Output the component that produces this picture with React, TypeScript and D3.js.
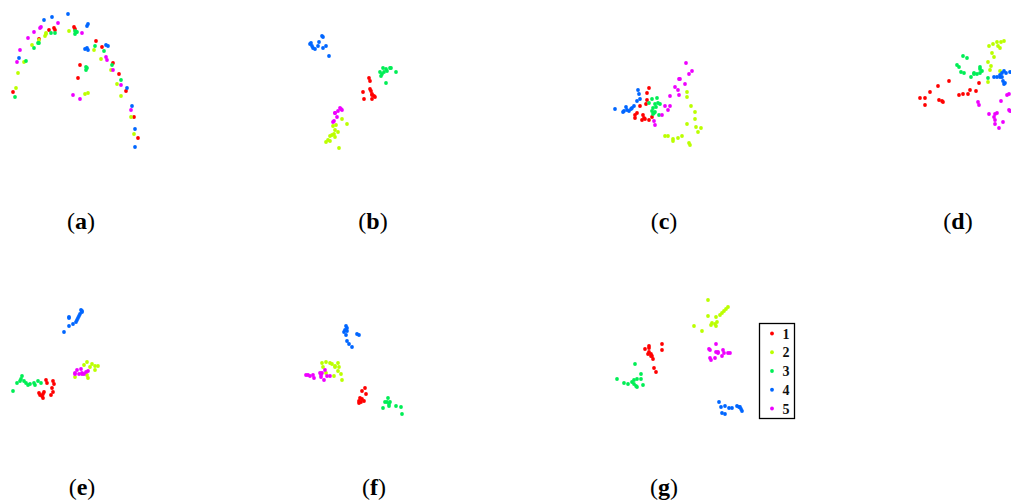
import React from "react";
import { scaleLinear } from "d3";

type Pt = [number, number];

const seriesNames = ["1", "2", "3", "4", "5"];
const seriesColors = ["#ff0000", "#bbff00", "#00ee55", "#0066ff", "#ee00ff"];
const panelLabels = ["a", "b", "c", "d", "e", "f", "g"];

// Panel (a)
const a1: Pt[] = [[74,27],[75,29],[54,28],[55,30],[49,30],[39,39],[96,41],[102,47],[113,63],[80,65],[78,78],[119,74],[126,91],[134,117],[138,138],[13,92]];
const a2: Pt[] = [[46,34],[46,33],[45,36],[39,40],[32,45],[24,62],[18,73],[16,88],[69,31],[94,50],[101,59],[111,70],[117,84],[121,96],[131,117],[134,134],[85,94],[88,93]];
const a3: Pt[] = [[51,33],[55,33],[39,43],[38,43],[34,48],[26,61],[15,97],[75,31],[76,32],[75,34],[77,32],[95,46],[104,51],[86,67],[87,68],[86,70],[112,65],[121,80]];
const a4: Pt[] = [[52,17],[44,20],[68,14],[88,24],[87,26],[19,58],[85,49],[88,50],[87,48],[106,45],[108,46],[127,88],[132,106],[135,129],[135,147]];
const a5: Pt[] = [[58,23],[41,27],[40,28],[34,32],[28,38],[20,50],[17,62],[82,33],[106,57],[107,60],[113,70],[121,85],[131,110],[73,95],[80,99]];

// Panel (b)
const b1: Pt[] = [[77,78],[78,81],[71,92],[78,89],[79,91],[80,94],[82,96],[80,99],[72,99],[83,97],[80,95]];
const b2: Pt[] = [[41,126],[44,125],[50,119],[55,124],[43,130],[46,132],[42,134],[40,135],[38,136],[36,140],[34,142],[38,141],[47,148],[43,137]];
const b3: Pt[] = [[91,68],[94,69],[92,72],[88,72],[90,74],[89,76],[98,68],[99,68],[104,72],[94,83],[95,71]];
const b4: Pt[] = [[30,36],[31,37],[19,43],[18,44],[20,46],[21,48],[23,49],[27,42],[26,46],[31,48],[34,46],[37,56]];
const b5: Pt[] = [[48,108],[50,110],[46,111],[43,113],[45,117],[42,121],[41,122],[43,113],[49,109]];

// Panel (c)
const c1: Pt[] = [[65,88],[63,93],[63,100],[62,104],[56,106],[53,113],[51,115],[51,118],[59,115],[60,118],[58,120],[61,119],[65,120],[68,117]];
const c2: Pt[] = [[103,92],[103,97],[107,106],[111,112],[111,119],[103,124],[112,127],[117,128],[114,132],[98,136],[94,138],[89,139],[89,141],[81,136],[84,136],[105,143],[106,145]];
const c3: Pt[] = [[68,99],[73,98],[65,103],[71,104],[74,103],[76,104],[72,107],[69,108],[71,112],[68,111],[70,113],[75,115],[69,114]];
const c4: Pt[] = [[54,90],[55,94],[56,99],[53,101],[50,106],[48,108],[42,107],[40,111],[39,112],[43,110],[45,111],[31,109],[47,109]];
const c5: Pt[] = [[102,63],[108,71],[105,74],[95,79],[96,79],[101,84],[91,87],[94,90],[95,95],[86,96],[81,106],[86,106],[84,110],[78,115],[70,121],[71,125]];

// Panel (d)
const d1: Pt[] = [[73,81],[62,86],[54,92],[44,98],[49,98],[49,105],[63,100],[66,101],[67,102],[83,95],[87,94],[92,94],[94,90],[100,91],[103,83]];
const d2: Pt[] = [[113,46],[117,44],[121,42],[125,42],[128,41],[122,46],[124,48],[116,53],[118,57],[112,62],[115,66],[114,70],[112,82],[124,71]];
const d3: Pt[] = [[87,56],[91,58],[81,65],[83,67],[85,72],[88,73],[95,77],[98,73],[98,74],[101,74],[104,69],[104,73],[106,71],[104,67],[112,78]];
const d4: Pt[] = [[128,71],[130,73],[134,72],[126,73],[124,75],[118,77],[121,77],[124,77],[126,77],[127,81],[128,84],[129,83]];
const d5: Pt[] = [[131,95],[133,94],[125,101],[102,102],[103,105],[133,110],[134,111],[113,114],[119,114],[121,113],[118,117],[119,120],[127,122],[119,124],[123,128]];

// Panel (e)
const e1: Pt[] = [[46,110],[47,113],[53,111],[54,114],[52,118],[53,122],[51,125],[44,122],[39,123],[40,125],[42,126],[43,128],[43,124]];
const e2: Pt[] = [[87,92],[84,95],[92,94],[95,96],[98,96],[95,100],[87,105],[88,108],[75,107],[90,97]];
const e3: Pt[] = [[22,106],[21,109],[20,111],[24,111],[17,113],[26,113],[30,114],[28,115],[34,113],[35,115],[38,111],[41,113],[13,121]];
const e4: Pt[] = [[81,40],[82,42],[80,44],[79,46],[78,48],[77,50],[69,47],[69,48],[76,52],[73,54],[69,56],[64,62],[82,41]];
const e5: Pt[] = [[81,99],[77,100],[75,103],[75,104],[79,104],[82,103],[86,102],[88,101],[84,104],[82,104]];

// Panel (f)
const f1: Pt[] = [[73,118],[70,121],[74,124],[68,128],[67,131],[69,132],[72,131],[67,133],[70,129]];
const f2: Pt[] = [[30,93],[34,92],[31,97],[38,93],[40,94],[43,96],[46,93],[43,97],[47,97],[46,101],[49,104],[42,106],[50,110],[34,103]];
const f3: Pt[] = [[96,128],[95,132],[93,132],[98,132],[97,134],[97,136],[91,138],[104,136],[109,137],[110,144]];
const f4: Pt[] = [[54,56],[55,58],[53,60],[52,62],[55,61],[54,65],[65,64],[67,65],[55,71],[57,74],[60,77]];
const f5: Pt[] = [[14,105],[16,105],[18,106],[21,105],[22,108],[28,103],[29,105],[33,100],[35,106],[38,106],[32,110],[29,107],[30,103]];

// Panel (g)
const g1: Pt[] = [[78,74],[78,80],[65,76],[65,78],[61,79],[65,82],[64,84],[67,84],[68,86],[69,89],[67,86],[70,98],[72,102]];
const g2: Pt[] = [[124,30],[144,37],[142,39],[140,41],[138,43],[136,45],[132,47],[124,46],[133,52],[131,54],[128,53],[127,55],[132,56],[110,56],[118,61]];
const g3: Pt[] = [[51,94],[57,104],[57,109],[53,109],[50,110],[48,112],[33,109],[40,113],[44,114],[50,114],[52,116],[53,117],[59,115]];
const g4: Pt[] = [[135,132],[141,136],[145,138],[148,138],[153,136],[156,137],[157,139],[158,141],[137,137],[138,143],[141,144],[155,137]];
const g5: Pt[] = [[132,74],[125,79],[126,80],[132,82],[134,83],[139,80],[140,83],[144,83],[146,83],[138,86],[131,88],[127,90],[126,88],[134,82]];

const panels: Pt[][][] = [
  [a1, a2, a3, a4, a5],
  [b1, b2, b3, b4, b5],
  [c1, c2, c3, c4, c5],
  [d1, d2, d3, d4, d5],
  [e1, e2, e3, e4, e5],
  [f1, f2, f3, f4, f5],
  [g1, g2, g3, g4, g5],
];

const W = 1011;
const H = 502;
const colX = [0, 292, 584, 876];
const rowY = [0, 270];
const cellW = 160;
const cellH = 200;
const labelX = [81, 373, 664, 958, 82, 374, 664];
const labelY = [229, 229, 229, 229, 495, 495, 495];

export default function App() {
  const ly = scaleLinear().domain([0, 4]).range([333.5, 408.5]);
  return (
    <svg
      width={W}
      height={H}
      style={{ position: "absolute", left: 0, top: 0, background: "#fff" }}
    >
      <rect x={0} y={0} width={W} height={H} fill="#fff" />
      {panels.map((series, pi) => {
        const col = pi < 4 ? pi : pi - 4;
        const row = pi < 4 ? 0 : 1;
        const x = scaleLinear().domain([0, cellW]).range([colX[col], colX[col] + cellW]);
        const y = scaleLinear().domain([0, cellH]).range([rowY[row], rowY[row] + cellH]);
        return (
          <g key={pi}>
            {series.map((pts, si) => (
              <g key={si} fill={seriesColors[si]}>
                {pts.map((p, k) => (
                  <circle key={k} cx={x(p[0])} cy={y(p[1])} r={1.9} />
                ))}
              </g>
            ))}
            <text
              x={labelX[pi]}
              y={labelY[pi]}
              textAnchor="middle"
              fontFamily="'Liberation Serif', 'DejaVu Serif', serif"
              fontSize={24}
              fill="#000"
            >
              (<tspan fontWeight="bold">{panelLabels[pi]}</tspan>)
            </text>
          </g>
        );
      })}
      <g>
        <rect x={759.5} y={323.5} width={35} height={95} fill="#fff" stroke="#000" strokeWidth={1.3} />
        {seriesNames.map((n, i) => (
          <g key={n}>
            <circle cx={772} cy={ly(i)} r={1.9} fill={seriesColors[i]} />
            <text
              x={786}
              y={ly(i) + 5}
              textAnchor="middle"
              fontFamily="'Liberation Serif', 'DejaVu Serif', serif"
              fontWeight="bold"
              fontSize={14}
              fill="#111"
            >
              {n}
            </text>
          </g>
        ))}
      </g>
    </svg>
  );
}
